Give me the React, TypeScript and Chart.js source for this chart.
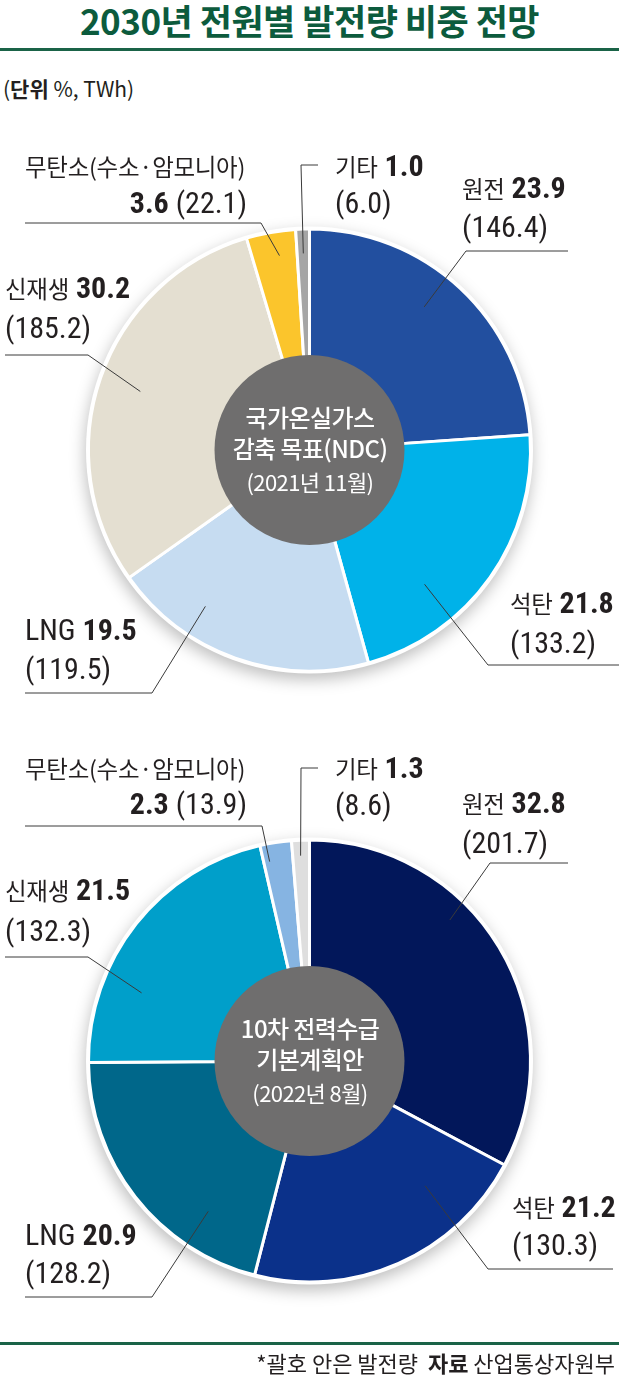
import React, { useEffect, useRef } from 'react';
import { Chart, registerables } from 'chart.js';

Chart.register(...registerables);

// ---------- data ----------
const categories = ['원전', '석탄', 'LNG', '신재생', '무탄소(수소·암모니아)', '기타'];
const ndcShares = [23.9, 21.8, 19.5, 30.2, 3.6, 1.0];
const ndcTWh = [146.4, 133.2, 119.5, 185.2, 22.1, 6.0];
const planShares = [32.8, 21.2, 20.9, 21.5, 2.3, 1.3];
const planTWh = [201.7, 130.3, 128.2, 132.3, 13.9, 8.6];
const ndcCenterText = ['국가온실가스', '감축 목표(NDC)', '(2021년 11월)'];
const planCenterText = ['10차 전력수급', '기본계획안', '(2022년 8월)'];

// ---------- styles ----------
const ndcColors = ['#224f9f', '#00b2e9', '#c6dcf1', '#e4dfd1', '#fbc52c', '#a5a5a5'];
const planColors = ['#02175a', '#0b318a', '#00678a', '#009fca', '#86b4e2', '#dedede'];

const KR = '"Noto Sans CJK KR", "Noto Sans", sans-serif';
const NUM = '"Liberation Sans Narrow", "Roboto Condensed", "DejaVu Sans Condensed", "Liberation Sans", sans-serif';
const TEXT = '#231f20';
const GREEN = '#0c5b3d';

type LabelLayout = {
  kind: 'stack' | 'split';
  x: number;
  y1: number;
  y2: number;
  t: number;
  rf: number;
  path: [number, number][];
};

const ndcLayout: LabelLayout[] = [
  { kind: 'stack', x: 462, y1: 188, y2: 227, t: 0.45, rf: 0.83, path: [[466, 251], [568, 251]] },
  { kind: 'stack', x: 510, y1: 603, y2: 643, t: 0.68, rf: 0.8, path: [[488, 665], [619, 665]] },
  { kind: 'stack', x: 25, y1: 630, y2: 669, t: 0.7, rf: 0.85, path: [[152, 693], [25, 693]] },
  { kind: 'stack', x: 5, y1: 288, y2: 328, t: 0.5, rf: 0.81, path: [[88, 355], [5, 355]] },
  { kind: 'split', x: 247, y1: 166, y2: 203, t: 0.6, rf: 0.89, path: [[261, 223], [25, 223]] },
  { kind: 'stack', x: 335, y1: 166, y2: 203, t: 0.5, rf: 0.89, path: [[301, 165], [318, 165]] },
];

const planLayout: LabelLayout[] = [
  { kind: 'stack', x: 462, y1: 803, y2: 843, t: 0.38, rf: 0.9, path: [[490, 863], [568, 863]] },
  { kind: 'stack', x: 512, y1: 1207, y2: 1245, t: 0.25, rf: 0.77, path: [[488, 1269], [613, 1269]] },
  { kind: 'stack', x: 25, y1: 1235, y2: 1273, t: 0.26, rf: 0.82, path: [[152, 1297], [25, 1297]] },
  { kind: 'stack', x: 5, y1: 890, y2: 931, t: 0.29, rf: 0.82, path: [[88, 957], [5, 957]] },
  { kind: 'split', x: 247, y1: 768, y2: 804, t: 0.2, rf: 0.92, path: [[262, 826], [25, 826]] },
  { kind: 'stack', x: 335, y1: 768, y2: 805, t: 0.47, rf: 0.93, path: [[301, 768], [318, 768]] },
];

const CANVAS_W = 619;
const CANVAS_H = 600;

type DonutProps = {
  shares: number[];
  twh: number[];
  colors: string[];
  layout: LabelLayout[];
  centerText: string[];
  centerY: number;
};

function Donut({ shares, twh, colors, layout, centerText, centerY }: DonutProps) {
  const ref = useRef<HTMLCanvasElement | null>(null);
  const top = centerY - CANVAS_H / 2;

  useEffect(() => {
    if (!ref.current) return;
    const decor = {
      id: 'decor',
      beforeDatasetsDraw(chart: any) {
        const arc = chart.getDatasetMeta(0).data[0];
        if (!arc) return;
        const ctx = chart.ctx;
        ctx.save();
        ctx.shadowColor = 'rgba(0,0,0,0.26)';
        ctx.shadowBlur = 16;
        ctx.shadowOffsetY = 6;
        ctx.shadowOffsetX = -1;
        ctx.fillStyle = '#ffffff';
        ctx.beginPath();
        ctx.arc(arc.x, arc.y, arc.outerRadius + 2.5, 0, Math.PI * 2);
        ctx.fill();
        ctx.restore();
      },
      afterDatasetsDraw(chart: any) {
        const meta = chart.getDatasetMeta(0);
        const first = meta.data[0];
        if (!first) return;
        const ctx = chart.ctx;
        ctx.save();
        ctx.fillStyle = '#6f6e6e';
        ctx.beginPath();
        ctx.arc(first.x, first.y, 95, 0, Math.PI * 2);
        ctx.fill();
        ctx.strokeStyle = '#3a3a3a';
        ctx.lineWidth = 1;
        meta.data.forEach((a: any, i: number) => {
          const L = layout[i];
          if (!L) return;
          const ang = a.startAngle + L.t * (a.endAngle - a.startAngle);
          const r = L.rf * a.outerRadius;
          const ax = a.x + r * Math.cos(ang);
          const ay = a.y + r * Math.sin(ang);
          ctx.beginPath();
          ctx.moveTo(ax, ay);
          L.path.forEach(([px, py]) => ctx.lineTo(px, py - top));
          ctx.stroke();
        });
        ctx.restore();
      },
    };
    const chart = new Chart(ref.current, {
      type: 'doughnut',
      data: {
        labels: categories,
        datasets: [
          {
            data: shares,
            backgroundColor: colors,
            borderColor: '#ffffff',
            borderWidth: 3,
          },
        ],
      },
      options: {
        animation: false,
        responsive: false,
        devicePixelRatio: 1,
        radius: 221,
        cutout: 110,
        events: [],
        layout: { padding: 0 },
        plugins: { legend: { display: false }, tooltip: { enabled: false } },
      } as any,
      plugins: [decor],
    });
    return () => chart.destroy();
  }, []);

  const numBold: React.CSSProperties = { fontFamily: NUM, fontWeight: 700, fontSize: 30 };
  const numReg: React.CSSProperties = { fontFamily: NUM, fontWeight: 400, fontSize: 30 };
  const kr: React.CSSProperties = { fontFamily: KR, fontWeight: 400, fontSize: 23.5, letterSpacing: -0.3 };
  const lineBase: React.CSSProperties = {
    position: 'absolute',
    whiteSpace: 'nowrap',
    lineHeight: '32px',
    height: 32,
    color: TEXT,
  };

  return (
    <>
      <canvas
        ref={ref}
        width={CANVAS_W}
        height={CANVAS_H}
        style={{ position: 'absolute', left: 0, top, width: CANVAS_W, height: CANVAS_H }}
      />
      {layout.map((L, i) => {
        const name = categories[i];
        const share = shares[i].toFixed(1);
        const val = '(' + twh[i].toFixed(1) + ')';
        if (L.kind === 'split') {
          return (
            <React.Fragment key={i}>
              <div style={{ ...lineBase, left: 25, top: L.y1 - 16 }}>
                <span style={kr}>{name}</span>
              </div>
              <div style={{ ...lineBase, right: 619 - L.x, top: L.y2 - 16 }}>
                <span style={numBold}>{share}</span>
                <span style={numReg}> {val}</span>
              </div>
            </React.Fragment>
          );
        }
        const isLatin = /^[A-Za-z]+$/.test(name);
        return (
          <React.Fragment key={i}>
            <div style={{ ...lineBase, left: L.x, top: L.y1 - 16 }}>
              <span style={isLatin ? numReg : kr}>{name}</span>
              <span style={numBold}> {share}</span>
            </div>
            <div style={{ ...lineBase, left: L.x, top: L.y2 - 16 }}>
              <span style={numReg}>{val}</span>
            </div>
          </React.Fragment>
        );
      })}
      {centerText.map((t, i) => (
        <div
          key={'c' + i}
          style={{
            position: 'absolute',
            left: 200,
            width: 220,
            textAlign: 'center',
            top: centerY + [-33, -2, 31][i] - 16,
            lineHeight: '32px',
            height: 32,
            color: '#ffffff',
            fontFamily: KR,
            fontWeight: i < 2 ? 500 : 400,
            fontSize: i < 2 ? 24 : 22,
            whiteSpace: 'nowrap',
            letterSpacing: -0.6,
          }}
        >
          {t}
        </div>
      ))}
    </>
  );
}

export default function App() {
  return (
    <div
      style={{
        position: 'absolute',
        left: 0,
        top: 0,
        width: 619,
        height: 1380,
        background: '#ffffff',
        overflow: 'hidden',
        fontFamily: KR,
      }}
    >
      <div
        style={{
          position: 'absolute',
          left: 0,
          top: -1,
          width: 619,
          textAlign: 'center',
          lineHeight: '42px',
          fontSize: 35,
          fontWeight: 700,
          color: GREEN,
          letterSpacing: -0.5,
          whiteSpace: 'nowrap',
        }}
      >
        2030년 전원별 발전량 비중 전망
      </div>
      <div style={{ position: 'absolute', left: 0, top: 48, width: 619, height: 3, background: '#1a6347' }} />
      <div
        style={{
          position: 'absolute',
          left: 3,
          top: 74,
          lineHeight: '28px',
          fontSize: 21,
          color: TEXT,
          whiteSpace: 'nowrap',
        }}
      >
        (<span style={{ fontWeight: 700 }}>단위</span> %, TWh)
      </div>

      <Donut shares={ndcShares} twh={ndcTWh} colors={ndcColors} layout={ndcLayout} centerText={ndcCenterText} centerY={450} />
      <Donut shares={planShares} twh={planTWh} colors={planColors} layout={planLayout} centerText={planCenterText} centerY={1061} />

      <div style={{ position: 'absolute', left: 0, top: 1342, width: 619, height: 3, background: '#1a6347' }} />
      <div
        style={{
          position: 'absolute',
          right: 4,
          top: 1348,
          lineHeight: '28px',
          fontSize: 22,
          color: TEXT,
          whiteSpace: 'nowrap',
        }}
      >
        *괄호 안은 발전량&nbsp;&nbsp;<span style={{ fontWeight: 700 }}>자료</span> 산업통상자원부
      </div>
    </div>
  );
}
